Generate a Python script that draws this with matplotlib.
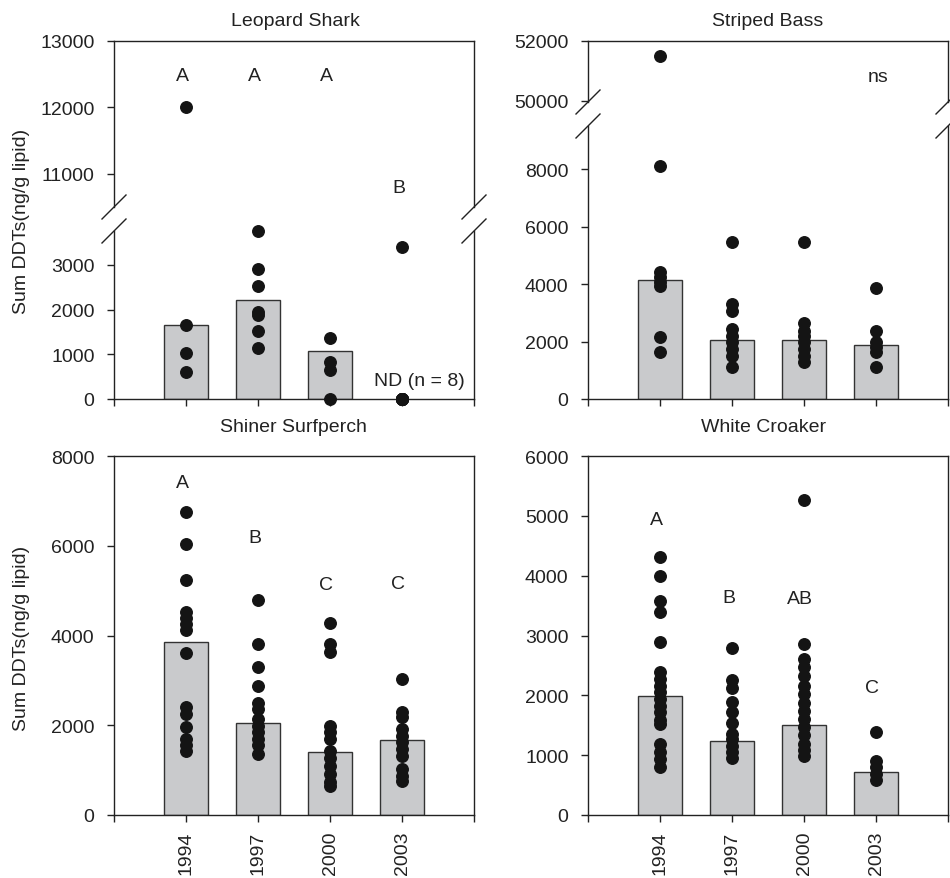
import numpy as np
import matplotlib
matplotlib.use("Agg")
import matplotlib.pyplot as plt
from matplotlib.lines import Line2D

plt.rcParams['font.family'] = ['Liberation Sans', 'DejaVu Sans']
plt.rcParams['font.size'] = 14

# ---- data (ng/g lipid) ----
years = ['1994', '1997', '2000', '2003']
xpos = [1, 2, 3, 4]

shark_pts = [[12000, 1650, 1030, 610],
             [3760, 2910, 2520, 1945, 1870, 1530, 1135],
             [1370, 820, 660, 0],
             [3400, 0, 0, 0, 0, 0, 0, 0, 0]]
shark_bars = [1650, 2205, 1070, None]
shark_letters = ['A', 'A', 'A', 'B']
shark_letter_y = [12400, 12400, 12400, 10720]

bass_pts = [[51500, 8100, 4410, 4230, 4060, 3940, 2150, 1650],
            [5450, 3300, 3070, 2440, 2200, 1970, 1740, 1510, 1100],
            [5480, 2640, 2380, 2180, 1970, 1740, 1480, 1280],
            [3880, 2380, 1970, 1820, 1620, 1100]]
bass_bars = [4140, 2060, 2060, 1890]

shiner_pts = [[6760, 6040, 5240, 4520, 4380, 4260, 4130, 3600, 2400, 2250, 1970, 1690, 1550, 1430],
              [4780, 3810, 3300, 2870, 2500, 2360, 2140, 1990, 1840, 1690, 1550, 1360],
              [4280, 3810, 3640, 1990, 1840, 1690, 1430, 1280, 1100, 910, 730, 640],
              [3030, 2300, 2180, 1920, 1770, 1620, 1470, 1320, 1030, 880, 760]]
shiner_bars = [3860, 2045, 1400, 1670]
shiner_letters = ['A', 'B', 'C', 'C']
shiner_letter_y = [7300, 6080, 5040, 5060]

croaker_pts = [[4320, 3990, 3570, 3390, 2890, 2390, 2270, 2160, 2050, 1940, 1830, 1720, 1580, 1520, 1190, 1050, 940, 800],
               [2790, 2250, 2130, 1890, 1720, 1530, 1350, 1270, 1160, 1060, 960],
               [5260, 2860, 2610, 2470, 2330, 2160, 2020, 1880, 1740, 1600, 1470, 1330, 1190, 1080, 990],
               [1380, 900, 800, 690, 580]]
croaker_bars = [1995, 1242, 1505, 724]
croaker_letters = ['A', 'B', 'AB', 'C']
croaker_letter_y = [4860, 3560, 3540, 2060]

# ---- layout (pixels) ----
W, H = 950, 879
fig = plt.figure(figsize=(W / 100, H / 100), dpi=100)

BAR_FC = '#c9cacc'
BAR_EC = '#333333'
DOT = '#141414'
FS = 14


def px_axes(x0, y0, x1, y1):
    return fig.add_axes([x0 / W, 1 - y1 / H, (x1 - x0) / W, (y1 - y0) / H])


def style(ax, show_top=True, show_bottom=True):
    for s in ax.spines.values():
        s.set_linewidth(1.0)
        s.set_color('#222222')
    ax.spines['top'].set_visible(show_top)
    ax.spines['bottom'].set_visible(show_bottom)
    ax.tick_params(axis='y', direction='out', length=5, width=1, pad=9,
                   labelsize=FS, right=False, colors='#222222')
    ax.tick_params(axis='x', direction='out', length=5, width=1, pad=6,
                   labelsize=FS, top=False, colors='#222222')
    ax.set_xlim(0, 5)
    ax.set_xticks(range(6))
    if show_bottom:
        ax.set_xticklabels([])
    else:
        ax.tick_params(axis='x', bottom=False, labelbottom=False)


def draw_data(ax, pts, bars, lo, hi):
    for x, vals, b in zip(xpos, pts, bars):
        if b is not None and b <= hi:
            ax.bar(x, b, width=0.6, color=BAR_FC, edgecolor=BAR_EC,
                   linewidth=1.0, zorder=2)
        v = [p for p in vals if lo <= p <= hi]
        ax.plot([x] * len(v), v, 'o', ms=8.3, color=DOT, mec=DOT,
                clip_on=False, zorder=4)


def slash(xc, yc):
    d = 12
    fig.add_artist(Line2D([(xc - d) / W, (xc + d) / W],
                          [1 - (yc + d) / H, 1 - (yc - d) / H],
                          transform=fig.transFigure, color='#222222', lw=1.0))


def letters(ax, labs, ys):
    for x, t, y in zip(xpos, labs, ys):
        ax.text(x - 0.05, y, t, ha='center', va='baseline', fontsize=FS,
                color='#222222', zorder=5)


# Leopard Shark (broken axis)
L0, L1 = 114, 474
a_up = px_axes(L0, 41.5, L1, 208)
a_lo = px_axes(L0, 232, L1, 400)
style(a_up, show_top=True, show_bottom=False)
style(a_lo, show_top=False, show_bottom=True)
a_up.set_ylim(10500, 13000)
a_up.set_yticks([11000, 12000, 13000])
a_lo.set_ylim(0, 3760)
a_lo.set_yticks([0, 1000, 2000, 3000])
draw_data(a_up, shark_pts, [None] * 4, 10500, 13000)
draw_data(a_lo, shark_pts, shark_bars, 0, 3760)
letters(a_up, shark_letters, shark_letter_y)
a_lo.text(4.24, 310, 'ND (n = 8)', ha='center', va='baseline', fontsize=FS, color='#222222')
for xc in (L0, L1):
    slash(xc, 208)
    slash(xc, 232)

# Striped Bass (broken axis)
R0, R1 = 588, 948
b_up = px_axes(R0, 41.5, R1, 103)
b_lo = px_axes(R0, 127, R1, 400)
style(b_up, show_top=True, show_bottom=False)
style(b_lo, show_top=False, show_bottom=True)
b_up.set_ylim(49957, 52000)
b_up.set_yticks([50000, 52000])
b_lo.set_ylim(0, 9500)
b_lo.set_yticks([0, 2000, 4000, 6000, 8000])
draw_data(b_up, bass_pts, [None] * 4, 49957, 52000)
draw_data(b_lo, bass_pts, bass_bars, 0, 9500)
b_up.text(4.03, 50664, 'ns', ha='center', va='baseline', fontsize=FS, color='#222222')
for xc in (R0, R1):
    slash(xc, 103)
    slash(xc, 127)

# Shiner Surfperch
c_ax = px_axes(L0, 457, L1, 816)
style(c_ax)
c_ax.set_ylim(0, 8000)
c_ax.set_yticks([0, 2000, 4000, 6000, 8000])
draw_data(c_ax, shiner_pts, shiner_bars, 0, 8000)
letters(c_ax, shiner_letters, shiner_letter_y)
c_ax.set_xticklabels([''] + years + [''], rotation=90)

# White Croaker
d_ax = px_axes(R0, 457, R1, 816)
style(d_ax)
d_ax.set_ylim(0, 6000)
d_ax.set_yticks([0, 1000, 2000, 3000, 4000, 5000, 6000])
draw_data(d_ax, croaker_pts, croaker_bars, 0, 6000)
letters(d_ax, croaker_letters, croaker_letter_y)
d_ax.set_xticklabels([''] + years + [''], rotation=90)

# titles and y labels
for (xc, yb, t) in [(295, 26.5, 'Leopard Shark'), (768, 25.7, 'Striped Bass'),
                    (293, 432.3, 'Shiner Surfperch'), (764, 431.7, 'White Croaker')]:
    fig.text(xc / W, 1 - yb / H, t, ha='center', va='baseline', fontsize=FS, color='#222222')
for yc in (221, 638):
    fig.text(22 / W, 1 - yc / H, 'Sum DDTs(ng/g lipid)', rotation=90,
             ha='center', va='center', fontsize=FS, color='#222222')

fig.savefig('out.png', dpi=100)
